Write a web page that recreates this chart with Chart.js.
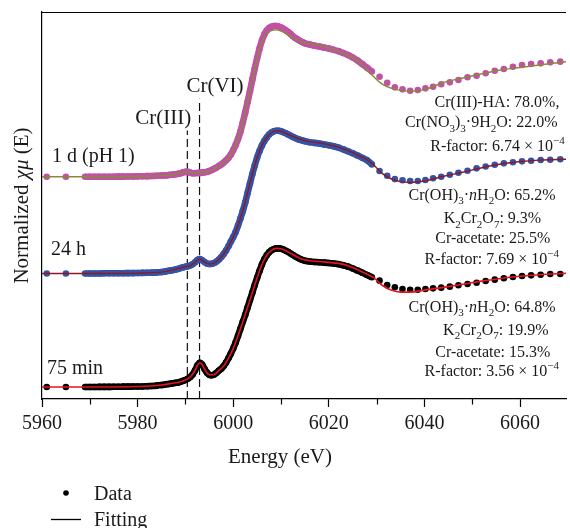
<!DOCTYPE html>
<html><head><meta charset="utf-8">
<script src="https://cdn.jsdelivr.net/npm/chart.js@4.4.0/dist/chart.umd.min.js"></script>
<style>html,body{margin:0;padding:0;background:#fff;}canvas{display:block;}</style>
</head><body>
<canvas id="c" width="570" height="528"></canvas>
<script>
// ---------- DATA ----------
const energyData = [5961, 5965,
  5969, 5970, 5971, 5972, 5973, 5974, 5975, 5976, 5977, 5978, 5979, 5980, 5981, 5982, 5983, 5984, 5985,
  5985.5, 5986, 5986.5, 5987, 5987.5, 5988, 5988.5, 5989, 5989.5, 5990,
  5990.5, 5991, 5991.5, 5992, 5992.5, 5993, 5993.5, 5994, 5994.5, 5995,
  5995.5, 5996, 5996.5, 5997, 5997.5, 5998, 5998.5, 5999, 5999.5, 6000,
  6000.5, 6001, 6001.5, 6002, 6002.5, 6003, 6003.5, 6004, 6004.5, 6005,
  6005.5, 6006, 6006.5, 6007, 6007.5, 6008, 6008.5, 6009, 6009.5, 6010,
  6010.5, 6011, 6011.5, 6012, 6012.5, 6013, 6013.5, 6014, 6014.5, 6015,
  6016, 6017, 6018, 6019, 6020, 6021, 6022, 6023, 6024, 6025, 6026, 6027, 6028, 6029,
  6030.6, 6032.2, 6033.8, 6035.4, 6037.0, 6038.6, 6040.2, 6041.8, 6043.5, 6045.3, 6047.1,
  6049.0, 6050.9, 6052.8, 6054.7, 6056.6, 6058.5, 6060.4, 6062.3, 6064.3, 6066.3, 6068.4];

const data75min = [0, 0,
  0, 0, 0, .001, .001, .001, .002, .002, .003, .003, .004, .004, .005, .007, .009, .012, .017,
  .020, .024, .027, .031, .034, .037, .040, .047, .055, .062,
  .073, .088, .111, .146, .190, .214, .199, .159, .127, .108,
  .104, .110, .126, .145, .162, .186, .217, .254, .296, .342,
  .394, .453, .515, .577, .637, .704, .770, .836, .903, .967,
  1.027, 1.084, 1.130, 1.165, 1.192, 1.210, 1.221, 1.227, 1.227, 1.224,
  1.217, 1.206, 1.195, 1.181, 1.168, 1.155, 1.143, 1.133, 1.124, 1.117,
  1.110, 1.106, 1.104, 1.101, 1.097, 1.093, 1.087, 1.078, 1.065, 1.049, 1.030, 1.011, .991, .971,
  .941, .903, .882, .867, .861, .861, .867, .873, .879, .888, .900,
  .912, .923, .938, .950, .962, .973, .982, .988, .994, 1.000, 1.000];

const data24h = [0, 0,
  0, 0, 0, 0, .001, .001, .001, .002, .002, .003, .003, .004, .005, .006, .007, .009, .012,
  .015, .019, .023, .027, .030, .035, .041, .048, .054, .059,
  .064, .070, .081, .098, .119, .127, .117, .101, .088, .083,
  .085, .092, .105, .123, .145, .172, .203, .240, .282, .322,
  .366, .424, .486, .552, .627, .712, .796, .880, .955, 1.026,
  1.083, 1.132, 1.172, 1.203, 1.229, 1.247, 1.258, 1.263, 1.262, 1.258,
  1.250, 1.240, 1.229, 1.219, 1.207, 1.198, 1.189, 1.182, 1.176, 1.170,
  1.161, 1.155, 1.150, 1.142, 1.135, 1.126, 1.114, 1.098, 1.081, 1.063, 1.043, 1.023, 1.001, .965,
  .906, .865, .835, .824, .818, .818, .827, .842, .856, .873, .891,
  .909, .930, .946, .962, .974, .984, .992, .997, 1.004, 1.006, 1.010];

const data1d = [0, 0,
  0, 0, 0, 0, .001, .001, .001, .002, .002, .003, .003, .004, .005, .006, .007, .009, .011,
  .012, .013, .016, .018, .020, .023, .027, .032, .039, .044,
  .044, .037, .032, .032, .034, .035, .037, .040, .044, .051,
  .060, .071, .082, .096, .109, .127, .146, .168, .197, .237,
  .281, .335, .401, .481, .569, .662, .759, .861, .958, 1.051,
  1.135, 1.206, 1.259, 1.295, 1.317, 1.328, 1.335, 1.335, 1.330, 1.321,
  1.310, 1.296, 1.281, 1.264, 1.244, 1.228, 1.215, 1.202, 1.191, 1.182,
  1.171, 1.161, 1.153, 1.144, 1.135, 1.124, 1.112, 1.096, 1.078, 1.056, 1.029, .998, .965, .932,
  .886, .833, .792, .774, .762, .768, .783, .797, .819, .836, .857,
  .881, .895, .916, .939, .954, .974, .989, .998, 1.004, 1.013, 1.019];

const energyFit = [5960, 5970, 5980, 5985, 5987, 5989, 5990, 5991, 5992, 5992.5,
  5993, 5993.5, 5994, 5995, 5996, 5997, 5998, 5999, 6000, 6001,
  6002, 6003, 6004, 6005, 6006, 6007, 6008, 6009, 6010, 6011,
  6012, 6014, 6016, 6018, 6020, 6022, 6024, 6026, 6028, 6029.4,
  6031, 6033, 6035, 6037, 6040, 6044, 6048, 6052, 6056, 6060,
  6064, 6069.6];

const fit75min = [0, 0, .004, .017, .031, .047, .062, .088, .146, .190,
  .214, .199, .159, .108, .110, .145, .186, .254, .342, .453,
  .577, .704, .836, .967, 1.084, 1.165, 1.210, 1.227, 1.224, 1.206,
  1.183, 1.138, 1.118, 1.110, 1.103, 1.094, 1.074, 1.038, .998, .968,
  .905, .858, .840, .840, .857, .882, .909, .937, .960, .980,
  .993, 1.006];

const fit24h = [0, 0, .003, .012, .027, .048, .059, .070, .098, .119,
  .127, .117, .101, .083, .092, .123, .172, .240, .322, .424,
  .552, .712, .880, 1.026, 1.132, 1.203, 1.247, 1.263, 1.258, 1.240,
  1.222, 1.188, 1.166, 1.155, 1.140, 1.118, 1.087, 1.048, 1.006, .960,
  .890, .838, .812, .805, .818, .860, .895, .935, .968, .990,
  1.003, 1.010];

const fit1d = [0, 0, .003, .011, .018, .032, .042, .040, .034, .034,
  .035, .037, .040, .051, .071, .096, .127, .168, .237, .335,
  .481, .662, .861, 1.045, 1.190, 1.268, 1.295, 1.300, 1.290, 1.270,
  1.245, 1.198, 1.178, 1.162, 1.140, 1.110, 1.076, 1.028, .945, .885,
  .825, .785, .765, .758, .772, .835, .875, .912, .945, .968,
  .990, 1.019];

const offsets = [0, 1.005, 1.86];            // vertical stacking offsets (75 min, 24 h, 1 d)
const sampleLabels = ['75 min', '24 h', '1 d (pH 1)'];
const markerEnergies = [5990.4, 5992.95];    // Cr(III), Cr(VI)
const markerTops = [2.27, 2.55];
const markerLabels = ['Cr(III)', 'Cr(VI)'];
const majorTicks = [5960, 5980, 6000, 6020, 6040, 6060];
const minorTicks = [5970, 5990, 6010, 6030, 6050];
const denseEnd = 6029.5;
const Y_MIN = -0.1062, Y_MAX = 3.3186;

// ---------- STYLE ----------
const FONT = '"Liberation Serif", "Times New Roman", serif';
const TXT = '#1a1a1a';
const styles = [
  {dot: '#000000', line: '#e8141c', lw: 1.6},
  {dot: '#3553a6', line: '#8b1a22', lw: 1.4},
  {dot: '#c052a4', line: '#8a883a', lw: 1.4}
];
const dataSets = [data75min, data24h, data1d];
const fitSets = [fit75min, fit24h, fit1d];

const datasets = [];
dataSets.forEach((arr, k) => {
  const st = styles[k];
  datasets.push({
    label: 'Fit ' + sampleLabels[k],
    data: energyFit.map((e, i) => ({x: e, y: fitSets[k][i] + offsets[k]})),
    showLine: true, borderColor: st.line, borderWidth: st.lw, pointRadius: 0,
    cubicInterpolationMode: 'monotone', order: 1
  });
  datasets.push({
    label: 'Data ' + sampleLabels[k],
    data: energyData.map((e, i) => ({x: e, y: arr[i] + offsets[k]})),
    showLine: true, borderWidth: 6.6, borderColor: st.dot,
    backgroundColor: st.dot, pointBackgroundColor: st.dot, pointBorderWidth: 0, pointRadius: 3.3,
    cubicInterpolationMode: 'monotone', order: 2,
    segment: {
      borderColor: c => (c.p0.parsed.x < 5968 || c.p1.parsed.x > denseEnd) ? 'rgba(0,0,0,0)' : st.dot
    }
  });
});
markerEnergies.forEach((e, k) => {
  datasets.push({
    label: markerLabels[k],
    data: [{x: e, y: Y_MIN}, {x: e, y: markerTops[k]}],
    showLine: true, borderColor: '#111', borderWidth: 1.2, borderDash: [8, 4], pointRadius: 0, order: 3
  });
});

function drawRich(ctx, segs, x, y, align, size) {
  const fontFor = s => (s === 'i' ? 'italic ' : '') + ((s === 'sub' || s === 'sup') ? Math.round(size * 0.68) : size) + 'px ' + FONT;
  let w = 0;
  segs.forEach(([t, s]) => { ctx.font = fontFor(s); w += ctx.measureText(t).width; });
  let cx = align === 'center' ? x - w / 2 : (align === 'right' ? x - w : x);
  ctx.textAlign = 'left';
  ctx.textBaseline = 'alphabetic';
  segs.forEach(([t, s]) => {
    ctx.font = fontFor(s);
    const dy = s === 'sub' ? size * 0.28 : (s === 'sup' ? -size * 0.42 : 0);
    ctx.fillText(t, cx, y + dy);
    cx += ctx.measureText(t).width;
  });
}

const annotations = [
  {x: 497, y: 106.7, segs: [['Cr(III)-HA: 78.0%,', '']]},
  {x: 481.3, y: 127.3, segs: [['Cr(NO', ''], ['3', 'sub'], [')', ''], ['3', 'sub'], ['·9H', ''], ['2', 'sub'], ['O: 22.0%', '']]},
  {x: 497.5, y: 150.7, segs: [['R-factor: 6.74 × 10', ''], ['−4', 'sup']]},
  {x: 482, y: 200, segs: [['Cr(OH)', ''], ['3', 'sub'], ['·', ''], ['n', 'i'], ['H', ''], ['2', 'sub'], ['O: 65.2%', '']]},
  {x: 492.5, y: 223.3, segs: [['K', ''], ['2', 'sub'], ['Cr', ''], ['2', 'sub'], ['O', ''], ['7', 'sub'], [': 9.3%', '']]},
  {x: 492.8, y: 243.3, segs: [['Cr-acetate: 25.5%', '']]},
  {x: 491.8, y: 264, segs: [['R-factor: 7.69 × 10', ''], ['−4', 'sup']]},
  {x: 482, y: 311.7, segs: [['Cr(OH)', ''], ['3', 'sub'], ['·', ''], ['n', 'i'], ['H', ''], ['2', 'sub'], ['O: 64.8%', '']]},
  {x: 495.8, y: 335, segs: [['K', ''], ['2', 'sub'], ['Cr', ''], ['2', 'sub'], ['O', ''], ['7', 'sub'], [': 19.9%', '']]},
  {x: 492.8, y: 356.7, segs: [['Cr-acetate: 15.3%', '']]},
  {x: 491.8, y: 375.7, segs: [['R-factor: 3.56 × 10', ''], ['−4', 'sup']]}
];
const sampleLabelPos = [{x: 47, y: 374.3}, {x: 51, y: 255}, {x: 52, y: 161.7}];
const markerLabelPos = [{x: 163.3, y: 124.3}, {x: 215, y: 91.7}];

const decor = {
  id: 'decor',
  afterDraw(chart) {
    const ctx = chart.ctx, a = chart.chartArea, xs = chart.scales.x;
    ctx.save();
    // top frame line
    ctx.strokeStyle = '#000'; ctx.lineWidth = 1.2;
    ctx.beginPath(); ctx.moveTo(a.left, a.top + 0.5); ctx.lineTo(a.right, a.top + 0.5); ctx.stroke();
    // minor ticks
    minorTicks.forEach(v => {
      const px = Math.round(xs.getPixelForValue(v)) + 0.5;
      ctx.beginPath(); ctx.moveTo(px, a.bottom); ctx.lineTo(px, a.bottom + 5.5); ctx.stroke();
    });
    ctx.fillStyle = TXT;
    // sample labels
    sampleLabels.forEach((t, k) => drawRich(ctx, [[t, '']], sampleLabelPos[k].x, sampleLabelPos[k].y, 'left', 20));
    // marker labels
    markerLabels.forEach((t, k) => drawRich(ctx, [[t, '']], markerLabelPos[k].x, markerLabelPos[k].y, 'center', 21));
    // fit annotations
    annotations.forEach(an => drawRich(ctx, an.segs, an.x, an.y, 'center', 16));
    // x title
    drawRich(ctx, [['Energy (eV)', '']], (a.left + a.right) / 2 - 24, 463, 'center', 21);
    // y title
    ctx.save();
    ctx.translate(28, (a.top + a.bottom) / 2);
    ctx.rotate(-Math.PI / 2);
    drawRich(ctx, [['Normalized ', ''], ['χμ', 'i'], [' (E)', '']], 0, 0, 'center', 21);
    ctx.restore();
    // legend
    ctx.beginPath(); ctx.arc(66, 493, 2.8, 0, Math.PI * 2); ctx.fillStyle = '#000'; ctx.fill();
    ctx.fillStyle = TXT;
    drawRich(ctx, [['Data', '']], 94, 500, 'left', 20);
    ctx.strokeStyle = '#000'; ctx.lineWidth = 1.3;
    ctx.beginPath(); ctx.moveTo(51, 519.5); ctx.lineTo(81, 519.5); ctx.stroke();
    drawRich(ctx, [['Fitting', '']], 94, 526, 'left', 20);
    ctx.restore();
  }
};

new Chart(document.getElementById('c'), {
  type: 'scatter',
  data: {datasets},
  options: {
    responsive: false, animation: false, devicePixelRatio: 1,
    layout: {padding: {left: 0, right: 0, top: 12, bottom: 0}},
    plugins: {legend: {display: false}, tooltip: {enabled: false}},
    scales: {
      x: {
        type: 'linear', min: 5960, max: 6069.6, position: 'bottom',
        afterBuildTicks: s => { s.ticks = majorTicks.map(v => ({value: v})); },
        ticks: {autoSkip: false, maxRotation: 0, padding: 5, color: TXT,
          font: {family: FONT, size: 20}, callback: v => String(v)},
        grid: {drawOnChartArea: false, drawTicks: true, tickLength: 8, tickColor: '#000', tickWidth: 1.2},
        border: {display: true, color: '#000', width: 1.2},
        afterFit: s => { s.height = 129; }
      },
      y: {
        type: 'linear', min: Y_MIN, max: Y_MAX, position: 'left',
        ticks: {display: false},
        grid: {display: false, drawTicks: false},
        border: {display: true, color: '#000', width: 1.2},
        afterFit: s => { s.width = 42; }
      }
    }
  },
  plugins: [decor]
});
</script>
</body></html>
